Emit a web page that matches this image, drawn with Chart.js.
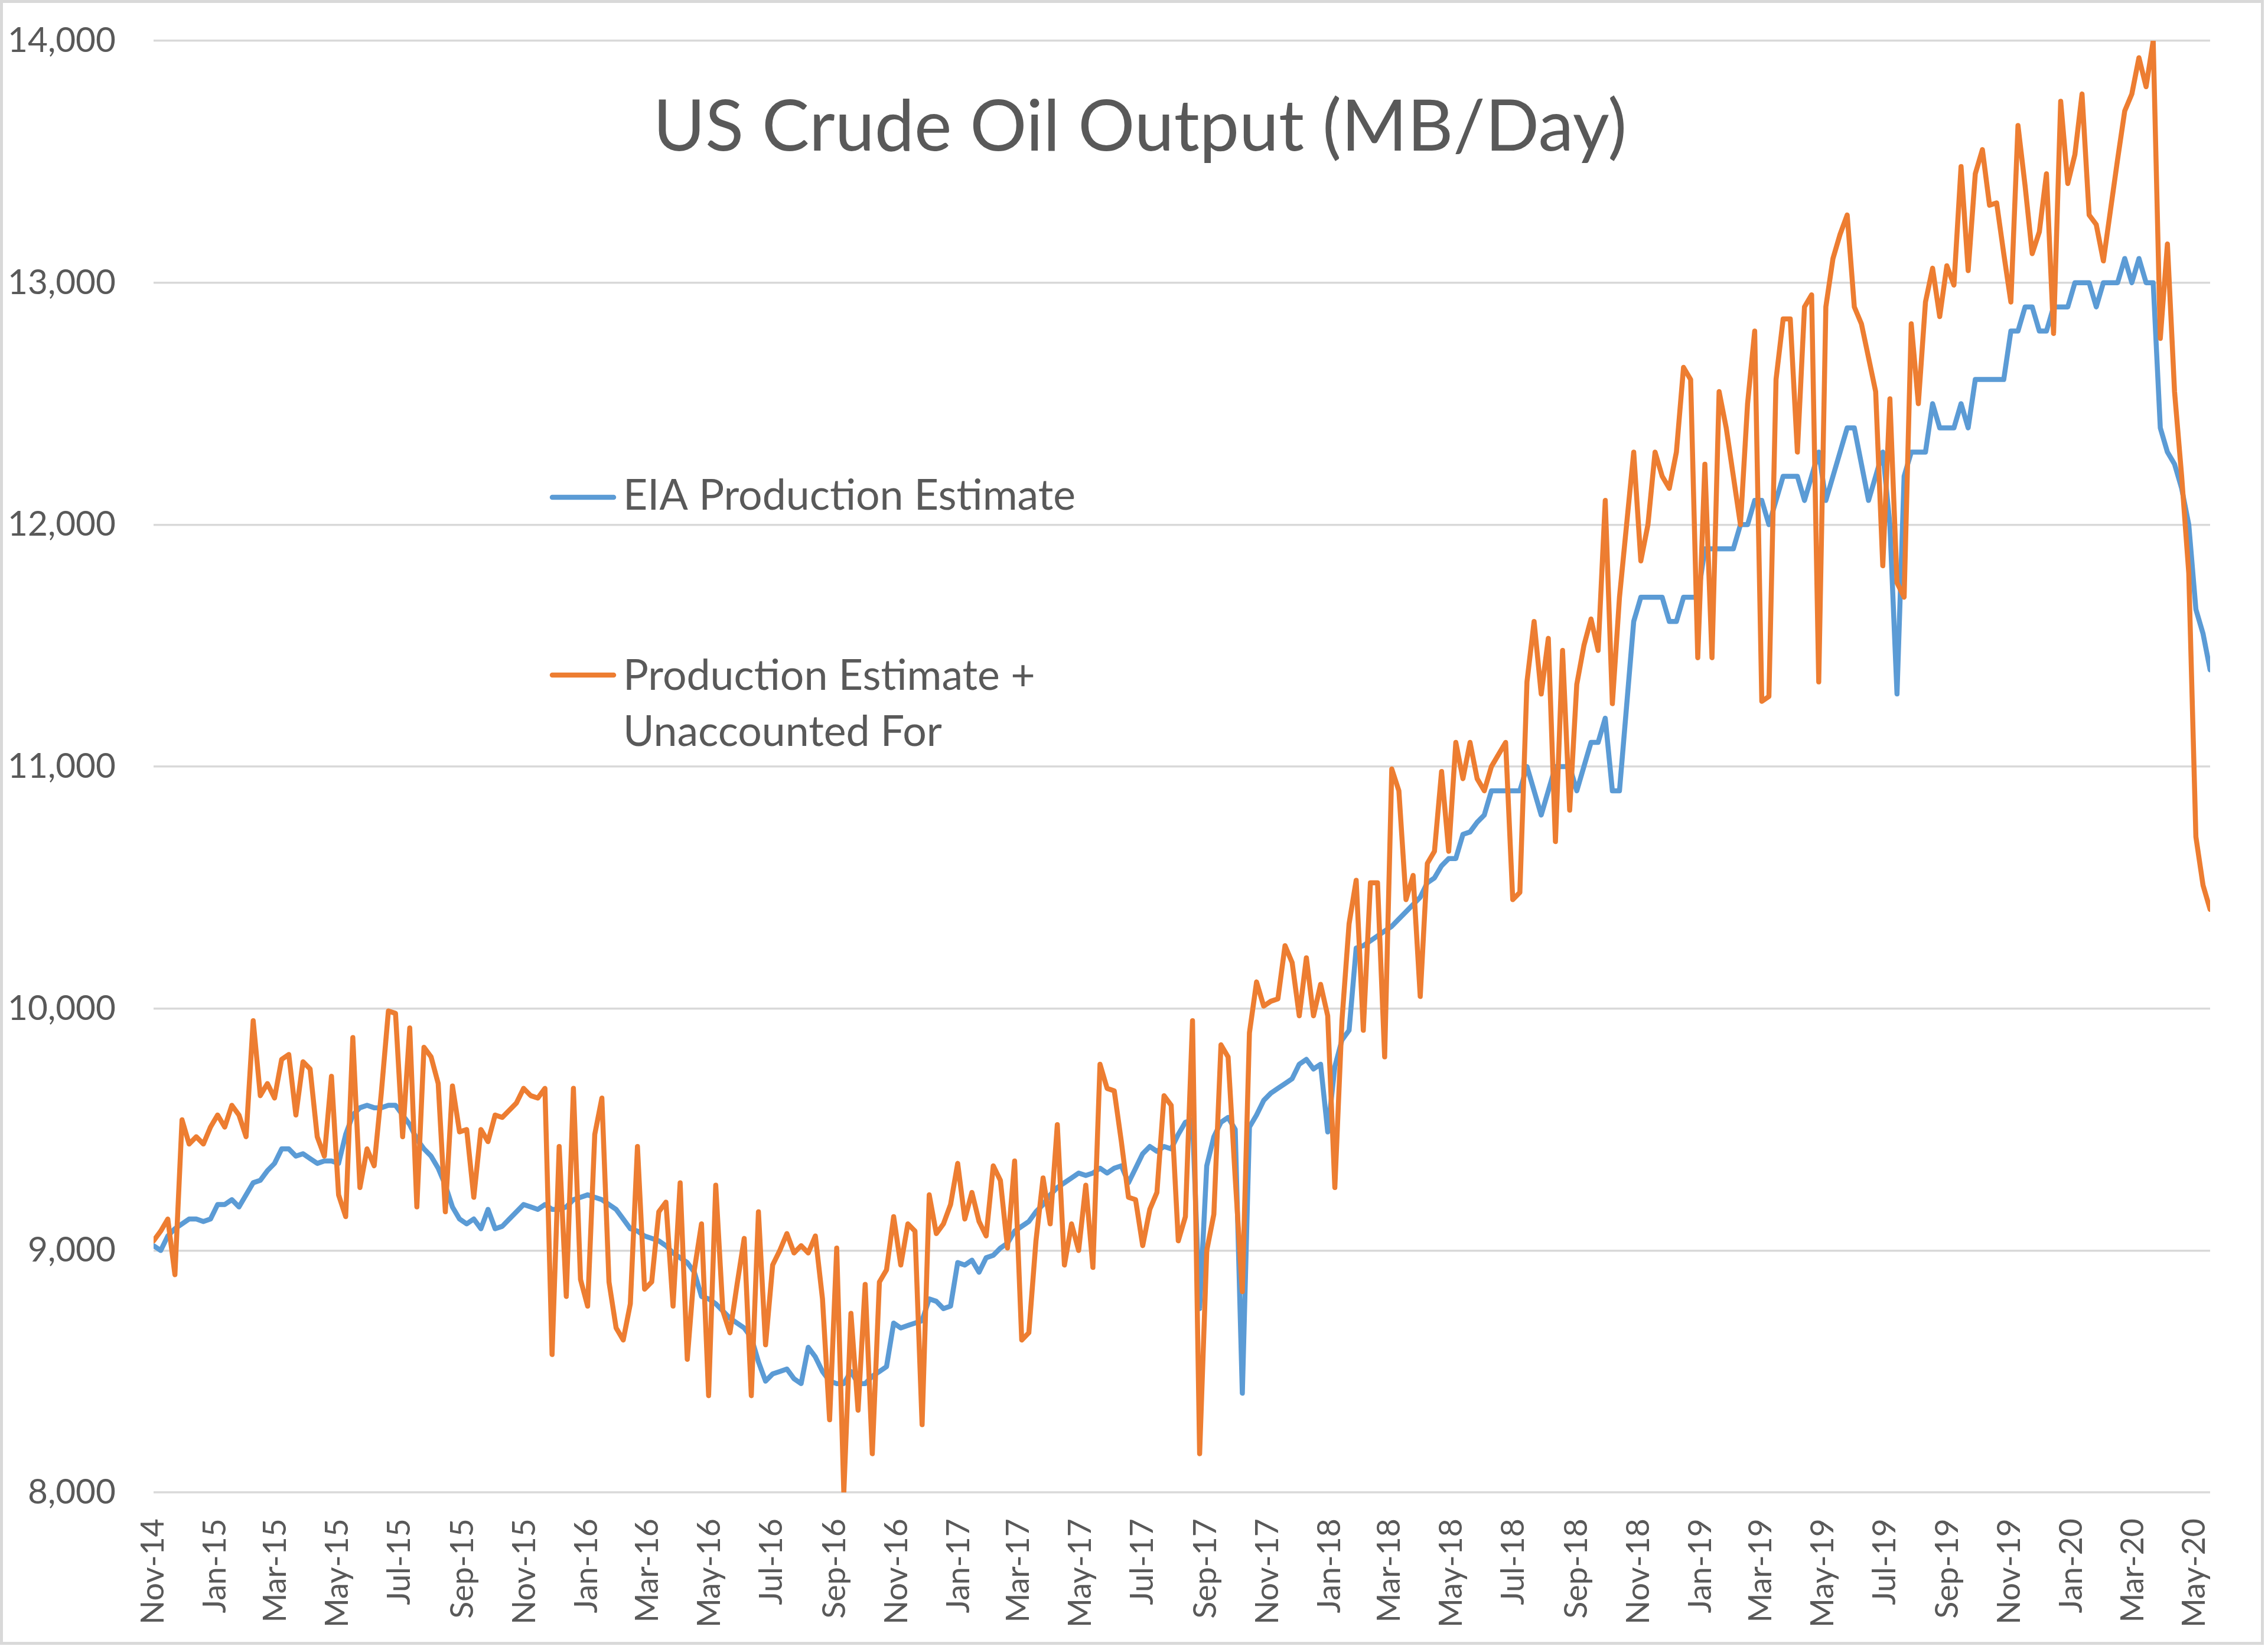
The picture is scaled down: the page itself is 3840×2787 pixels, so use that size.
<!DOCTYPE html>
<html>
<head>
<meta charset="utf-8">
<script src="https://cdn.jsdelivr.net/npm/chart.js@4.4.1/dist/chart.umd.min.js"></script>
<style>
html,body{margin:0;padding:0;background:#ffffff;}
#wrap{width:3840px;height:2787px;}
canvas{display:block;}
</style>
</head>
<body>
<div id="wrap"><canvas id="c" width="3840" height="2787"></canvas></div>
<script>
// ---------- data ----------
const chartTitle = 'US Crude Oil Output (MB/Day)';
const seriesNames = ['EIA Production Estimate', 'Production Estimate +', 'Unaccounted For'];
const firstWeek = [2014, 10, 7];   // weekly observations start Fri 7 Nov 2014
const xTickLabels = ['Nov-14','Jan-15','Mar-15','May-15','Jul-15','Sep-15','Nov-15','Jan-16','Mar-16','May-16',
  'Jul-16','Sep-16','Nov-16','Jan-17','Mar-17','May-17','Jul-17','Sep-17','Nov-17','Jan-18','Mar-18','May-18',
  'Jul-18','Sep-18','Nov-18','Jan-19','Mar-19','May-19','Jul-19','Sep-19','Nov-19','Jan-20','Mar-20','May-20'];
const yMin = 8000, yMax = 14000, yStep = 1000;

const eiaEstimate = [
  9020, 9000, 9060, 9090, 9110, 9130, 9130, 9120, 9130, 9190,
  9190, 9210, 9180, 9230, 9280, 9290, 9330, 9360, 9420, 9420,
  9390, 9400, 9380, 9360, 9370, 9370, 9360, 9480, 9560, 9590,
  9600, 9590, 9590, 9600, 9600, 9560, 9520, 9460, 9420, 9390,
  9340, 9270, 9180, 9130, 9110, 9130, 9090, 9170, 9090, 9100,
  9130, 9160, 9190, 9180, 9170, 9190, 9170, 9170, 9180, 9210,
  9220, 9230, 9220, 9210, 9190, 9170, 9130, 9090, 9080, 9060,
  9050, 9040, 9020, 8990, 8970, 8950, 8910, 8810, 8800, 8780,
  8750, 8720, 8700, 8680, 8640, 8540, 8460, 8490, 8500, 8510,
  8470, 8450, 8600, 8560, 8500, 8460, 8450, 8450, 8500, 8450,
  8450, 8480, 8500, 8520, 8700, 8680, 8690, 8700, 8710, 8800,
  8790, 8760, 8770, 8950, 8940, 8960, 8910, 8970, 8980, 9010,
  9030, 9080, 9100, 9120, 9160, 9190, 9230, 9260, 9280, 9300,
  9320, 9310, 9320, 9340, 9320, 9340, 9350, 9280, 9340, 9400,
  9430, 9410, 9430, 9420, 9480, 9530, 9540, 8760, 9350, 9470,
  9530, 9550, 9500, 8410, 9510, 9560, 9620, 9650, 9670, 9690,
  9710, 9770, 9790, 9750, 9770, 9490, 9760, 9870, 9910, 10250,
  10260, 10280, 10300, 10320, 10340, 10370, 10400, 10430, 10460, 10520,
  10540, 10590, 10620, 10620, 10720, 10730, 10770, 10800, 10900, 10900,
  10900, 10900, 10900, 11000, 10900, 10800, 10900, 11000, 11000, 11000,
  10900, 11000, 11100, 11100, 11200, 10900, 10900, 11250, 11600, 11700,
  11700, 11700, 11700, 11600, 11600, 11700, 11700, 11700, 11900, 11900,
  11900, 11900, 11900, 12000, 12000, 12100, 12100, 12000, 12100, 12200,
  12200, 12200, 12100, 12200, 12300, 12100, 12200, 12300, 12400, 12400,
  12250, 12100, 12200, 12300, 12000, 11300, 12200, 12300, 12300, 12300,
  12500, 12400, 12400, 12400, 12500, 12400, 12600, 12600, 12600, 12600,
  12600, 12800, 12800, 12900, 12900, 12800, 12800, 12900, 12900, 12900,
  13000, 13000, 13000, 12900, 13000, 13000, 13000, 13100, 13000, 13100,
  13000, 13000, 12400, 12300, 12250, 12150, 12000, 11650, 11550, 11400
];

const withUnaccounted = [
  9040, 9080, 9130, 8900, 9540, 9440, 9470, 9440, 9510, 9560,
  9510, 9600, 9560, 9470, 9950, 9640, 9690, 9630, 9790, 9810,
  9560, 9780, 9750, 9470, 9390, 9720, 9230, 9140, 9880, 9260,
  9420, 9350, 9650, 9990, 9980, 9470, 9920, 9180, 9840, 9800,
  9690, 9160, 9680, 9490, 9500, 9220, 9500, 9450, 9560, 9550,
  9580, 9610, 9670, 9640, 9630, 9670, 8570, 9430, 8810, 9670,
  8880, 8770, 9480, 9630, 8870, 8680, 8630, 8780, 9430, 8840,
  8870, 9160, 9200, 8770, 9280, 8550, 8920, 9110, 8400, 9270,
  8750, 8660, 8860, 9050, 8400, 9160, 8610, 8940, 9000, 9070,
  8990, 9020, 8990, 9060, 8800, 8300, 9010, 8000, 8740, 8340,
  8860, 8160, 8870, 8920, 9140, 8940, 9110, 9080, 8280, 9230,
  9070, 9110, 9190, 9360, 9130, 9240, 9120, 9060, 9350, 9290,
  9010, 9370, 8630, 8660, 9040, 9300, 9110, 9520, 8940, 9110,
  9000, 9270, 8930, 9770, 9670, 9660, 9450, 9220, 9210, 9020,
  9170, 9240, 9640, 9600, 9040, 9140, 9950, 8160, 9000, 9150,
  9850, 9800, 9300, 8830, 9900, 10110, 10010, 10030, 10040, 10260,
  10190, 9970, 10210, 9970, 10100, 9970, 9260, 9950, 10350, 10530,
  9910, 10520, 10520, 9800, 10990, 10900, 10450, 10550, 10050, 10600,
  10650, 10980, 10650, 11100, 10950, 11100, 10950, 10900, 11000, 11050,
  11100, 10450, 10480, 11350, 11600, 11300, 11530, 10690, 11480, 10820,
  11340, 11500, 11610, 11480, 12100, 11260, 11700, 12000, 12300, 11850,
  12000, 12300, 12200, 12150, 12300, 12650, 12600, 11450, 12250, 11450,
  12550, 12400, 12200, 12000, 12500, 12800, 11270, 11290, 12600, 12850,
  12850, 12300, 12900, 12950, 11350, 12900, 13100, 13200, 13280, 12900,
  12830, 12690, 12550, 11830, 12520, 11760, 11700, 12830, 12500, 12920,
  13060, 12860, 13070, 12990, 13480, 13050, 13450, 13550, 13320, 13330,
  13120, 12920, 13650, 13400, 13120, 13210, 13450, 12790, 13750, 13410,
  13530, 13780, 13280, 13240, 13090, 13300, 13510, 13710, 13780, 13930,
  13810, 14000, 12770, 13160, 12550, 12200, 11800, 10710, 10510, 10410
];

// ---------- helpers ----------
const DAY = 86400000;
const startMs = Date.UTC(firstWeek[0], firstWeek[1], firstWeek[2]);
const monthIndex = {Jan:0,Feb:1,Mar:2,Apr:3,May:4,Jun:5,Jul:6,Aug:7,Sep:8,Oct:9,Nov:10,Dec:11};
const tickDays = xTickLabels.map(l => {
  const [m, y] = l.split('-');
  return (Date.UTC(2000 + Number(y), monthIndex[m], firstWeek[2]) - startMs) / DAY;
});
const weekDays = eiaEstimate.map((_, i) => i * 7);
const lastDay = weekDays[weekDays.length - 1];

const FONT = 'Lato, "Open Sans", sans-serif';
const measureCtx = document.createElement('canvas').getContext('2d');
function fitPx(text, targetW, weight) {
  measureCtx.font = (weight || 'normal') + ' 100px ' + FONT;
  return 100 * targetW / measureCtx.measureText(text).width;
}
const titlePx = fitPx(chartTitle, 1649, 'normal');
const legendPx = fitPx(seriesNames[0], 766, 'normal');
const yTickPx = fitPx('14,000', 183, 'normal');
const xTickPx = fitPx('May-15', 185, 'normal');

const TEXT = '#595959';
const BLUE = '#5B9BD5';
const ORANGE = '#ED7D31';

const decor = {
  id: 'decor',
  beforeDraw(chart) {
    const c = chart.ctx;
    c.save();
    c.fillStyle = '#ffffff';
    c.fillRect(0, 0, chart.width, chart.height);
    c.restore();
  },
  afterDraw(chart) {
    const c = chart.ctx;
    c.save();
    // title
    c.fillStyle = TEXT;
    c.textAlign = 'center';
    c.textBaseline = 'alphabetic';
    c.font = 'normal ' + titlePx.toFixed(1) + 'px ' + FONT;
    c.fillText(chartTitle, 1930, 255);
    // legend
    c.lineCap = 'round';
    c.lineWidth = 8.5;
    c.strokeStyle = BLUE;
    c.beginPath(); c.moveTo(935, 842); c.lineTo(1039, 842); c.stroke();
    c.strokeStyle = ORANGE;
    c.beginPath(); c.moveTo(935, 1143); c.lineTo(1039, 1143); c.stroke();
    c.textAlign = 'left';
    c.font = 'normal ' + legendPx.toFixed(1) + 'px ' + FONT;
    c.fillText(seriesNames[0], 1055, 863);
    c.fillText(seriesNames[1], 1055, 1168);
    c.fillText(seriesNames[2], 1055, 1263);
    // chart border
    c.strokeStyle = '#d9d9d9';
    c.lineWidth = 5;
    c.strokeRect(2.5, 2.5, 3828, 2780);
    c.restore();
  }
};

new Chart(document.getElementById('c'), {
  type: 'line',
  data: {
    datasets: [
      {
        label: seriesNames[1] + ' ' + seriesNames[2],
        data: withUnaccounted.map((v, i) => ({x: weekDays[i], y: v})),
        borderColor: ORANGE,
        backgroundColor: ORANGE,
        borderWidth: 8.5,
        order: 0
      },
      {
        label: seriesNames[0],
        data: eiaEstimate.map((v, i) => ({x: weekDays[i], y: v})),
        borderColor: BLUE,
        backgroundColor: BLUE,
        borderWidth: 8.5,
        order: 1
      }
    ]
  },
  options: {
    responsive: false,
    animation: false,
    devicePixelRatio: 1,
    layout: {padding: {top: 69, right: 98, bottom: 0, left: 0}},
    elements: {
      line: {tension: 0, borderJoinStyle: 'round', borderCapStyle: 'round', fill: false},
      point: {radius: 0, hoverRadius: 0}
    },
    plugins: {
      legend: {display: false},
      title: {display: false},
      tooltip: {enabled: false}
    },
    scales: {
      x: {
        type: 'linear',
        min: 0,
        max: lastDay,
        grid: {display: false},
        border: {display: false},
        afterBuildTicks: s => { s.ticks = tickDays.map(v => ({value: v})); },
        afterFit: s => { s.height = 260; s.paddingLeft = 0; s.paddingRight = 0; },
        ticks: {
          autoSkip: false,
          maxRotation: 90,
          minRotation: 90,
          padding: 36,
          color: TEXT,
          font: {family: FONT, size: xTickPx},
          callback: (v, i) => xTickLabels[i]
        }
      },
      y: {
        min: yMin,
        max: yMax,
        afterFit: s => { s.width = 260; s.paddingTop = 0; s.paddingBottom = 0; },
        grid: {color: '#d9d9d9', lineWidth: 3.5, drawTicks: false},
        border: {display: false},
        ticks: {
          stepSize: yStep,
          padding: 64,
          color: TEXT,
          font: {family: FONT, size: yTickPx},
          callback: v => Number(v).toLocaleString('en-US')
        }
      }
    }
  },
  plugins: [decor]
});
</script>
</body>
</html>
